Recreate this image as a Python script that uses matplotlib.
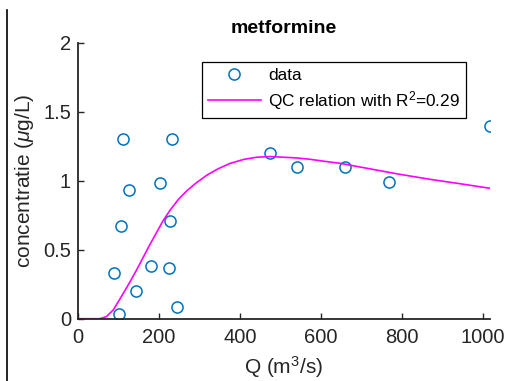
import matplotlib.pyplot as plt
import matplotlib.lines as mlines

plt.rcParams['font.family'] = ['Liberation Sans', 'DejaVu Sans']
plt.rcParams['mathtext.fontset'] = 'custom'
plt.rcParams['mathtext.rm'] = 'Liberation Sans'
plt.rcParams['mathtext.it'] = 'Liberation Sans:italic'

# gemeten debiet (m3/s) en concentratie (ug/L)
Q_data = [111, 231, 127, 202, 106, 227, 89, 179, 225, 143, 244, 100,
          474, 541, 658, 767, 1017]
C_data = [1.30, 1.30, 0.93, 0.98, 0.67, 0.71, 0.33, 0.38, 0.37, 0.20, 0.087, 0.034,
          1.20, 1.10, 1.10, 0.99, 1.40]

# QC relatie
Q_fit = [0, 54, 70, 87, 105, 128, 145, 161, 178, 194, 210, 227, 248, 268, 290,
         318, 345, 375, 410, 441, 475, 507, 540, 573, 610, 647, 704, 787, 869,
         950, 1017]
C_fit = [0, 0, 0.015, 0.063, 0.15, 0.265, 0.355, 0.445, 0.54, 0.625, 0.71, 0.785,
         0.865, 0.925, 0.98, 1.04, 1.085, 1.125, 1.155, 1.17, 1.175, 1.17, 1.165,
         1.155, 1.14, 1.126, 1.095, 1.05, 1.01, 0.975, 0.945]

xticks = [0, 200, 400, 600, 800, 1000]
yticks = [0, 0.5, 1, 1.5, 2]
ytick_labels = ['0', '0.5', '1', '1.5', '2']

fig = plt.figure(figsize=(5.07, 3.81), dpi=100)
ax = fig.add_axes([78 / 507, 62.3 / 381, 412 / 507, 276 / 381])

ax.plot(Q_data, C_data, 'o', mfc='none', mec='#0072BD', mew=1.1, ms=8, label='data')
ax.plot(Q_fit, C_fit, '-', color='#FF00FF', lw=1.2,
        label=r'QC relation with R$^2$=0.29')

ax.set_xlim(0, 1017)
ax.set_ylim(0, 2)
ax.set_xticks(xticks)
ax.set_yticks(yticks)
ax.set_yticklabels(ytick_labels)

for s in ['top', 'right']:
    ax.spines[s].set_visible(False)
for s in ['left', 'bottom']:
    ax.spines[s].set_color('#262626')
    ax.spines[s].set_linewidth(1.3)
ax.tick_params(direction='in', length=4, width=1, colors='#262626', labelsize=14.5)
ax.tick_params(axis='x', pad=7)
ax.tick_params(axis='y', pad=5)

ax.set_title('metformine', fontsize=14, fontweight='bold', pad=7)
ax.set_xlabel(r'Q (m$^3$/s)', fontsize=15, color='#262626', labelpad=5)
ax.set_ylabel(r'concentratie ($\mu$g/L)', fontsize=15, color='#262626', labelpad=5)

leg = ax.legend(loc='upper left', bbox_to_anchor=(201.7 / 507, 1 - 61.7 / 381),
                bbox_transform=fig.transFigure, borderaxespad=0, fontsize=12.4,
                fancybox=False, framealpha=1, edgecolor='black',
                handlelength=3.1, handletextpad=0.4, borderpad=0.35,
                labelspacing=0.35)
leg.get_frame().set_linewidth(0.9)

# linker kantlijn
fig.add_artist(mlines.Line2D([7.3 / 507, 7.3 / 507], [0, 1 - 10 / 381],
                             color='black', lw=1.2))

fig.savefig('out.png', dpi=100)
